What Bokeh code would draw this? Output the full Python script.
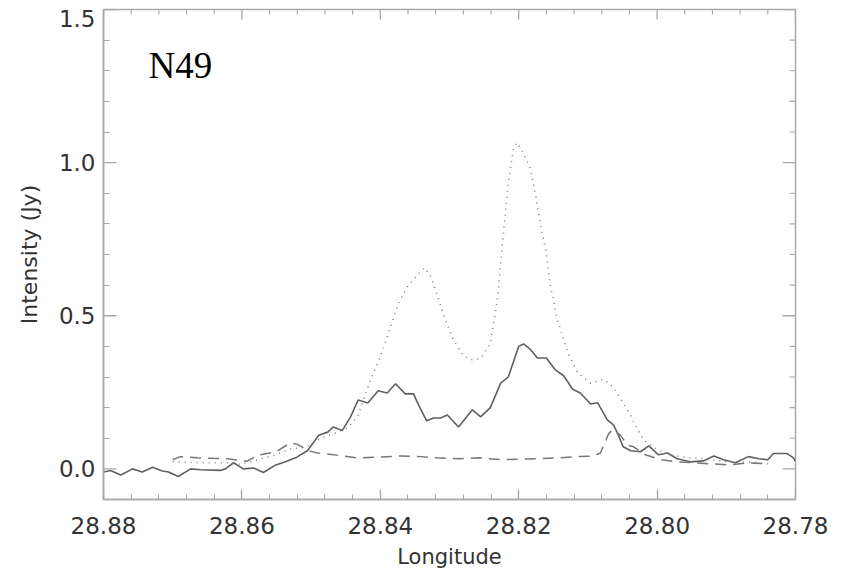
import math
from bokeh.plotting import figure
from bokeh.models import Range1d, FixedTicker, Label
from bokeh.embed import file_html
from bokeh.resources import INLINE

# ---- data ----
lon_solid = [28.8800, 28.8790, 28.8775, 28.8758, 28.8744, 28.8729, 28.8715, 28.8706, 28.8692,
             28.8674, 28.8660, 28.8631, 28.8624, 28.8612, 28.8598, 28.8583, 28.8569, 28.8551,
             28.8537, 28.8520, 28.8505, 28.8489, 28.8476, 28.8468, 28.8455, 28.8443, 28.8432,
             28.8418, 28.8403, 28.8390, 28.8378, 28.8364, 28.8352, 28.8345, 28.8333, 28.8323,
             28.8313, 28.8303, 28.8294, 28.8287, 28.8267, 28.8255, 28.8241, 28.8226, 28.8215,
             28.8200, 28.8193, 28.8183, 28.8173, 28.8160, 28.8147, 28.8135, 28.8122, 28.8111,
             28.8096, 28.8086, 28.8072, 28.8063, 28.8056, 28.8049, 28.8038, 28.8024, 28.8012,
             28.7998, 28.7985, 28.7971, 28.7952, 28.7933, 28.7918, 28.7904, 28.7887, 28.7868,
             28.7853, 28.7840, 28.7832, 28.7812, 28.7803, 28.7800]
int_solid = [-0.010, -0.005, -0.020, 0.000, -0.010, 0.005, -0.007, -0.010, -0.025,
             0.000, -0.003, -0.005, 0.000, 0.020, 0.000, 0.003, -0.012, 0.013,
             0.023, 0.039, 0.060, 0.110, 0.120, 0.137, 0.125, 0.170, 0.225,
             0.215, 0.255, 0.248, 0.278, 0.245, 0.245, 0.210, 0.157, 0.166,
             0.166, 0.176, 0.154, 0.137, 0.193, 0.170, 0.200, 0.280, 0.300,
             0.400, 0.408, 0.390, 0.362, 0.362, 0.323, 0.304, 0.260, 0.248,
             0.212, 0.216, 0.160, 0.144, 0.110, 0.072, 0.059, 0.056, 0.075,
             0.046, 0.052, 0.033, 0.023, 0.026, 0.042, 0.030, 0.020, 0.040,
             0.033, 0.030, 0.050, 0.050, 0.036, 0.025]

lon_dotted = [28.8700, 28.8677, 28.8660, 28.8621, 28.8602, 28.8577, 28.8551, 28.8530, 28.8508,
              28.8486, 28.8462, 28.8447, 28.8433, 28.8414, 28.8400, 28.8385, 28.8374, 28.8361,
              28.8346, 28.8336, 28.8327, 28.8317, 28.8306, 28.8294, 28.8281, 28.8270, 28.8255,
              28.8241, 28.8231, 28.8222, 28.8215, 28.8208, 28.8203, 28.8195, 28.8183, 28.8176,
              28.8168, 28.8161, 28.8154, 28.8144, 28.8129, 28.8115, 28.8096, 28.8077, 28.8063,
              28.8043, 28.8020, 28.7999, 28.7981, 28.7956, 28.7933, 28.7898, 28.7861, 28.7836]
int_dotted = [0.023, 0.022, 0.020, 0.020, 0.015, 0.030, 0.046, 0.065, 0.070,
              0.100, 0.120, 0.134, 0.170, 0.290, 0.366, 0.464, 0.540, 0.595,
              0.634, 0.657, 0.628, 0.562, 0.487, 0.420, 0.373, 0.356, 0.360,
              0.410, 0.550, 0.770, 0.935, 1.040, 1.065, 1.040, 0.980, 0.900,
              0.790, 0.716, 0.595, 0.487, 0.380, 0.314, 0.280, 0.293, 0.265,
              0.193, 0.095, 0.062, 0.046, 0.036, 0.033, 0.023, 0.022, 0.016]

lon_dashed = [28.8700, 28.8689, 28.8664, 28.8621, 28.8592, 28.8577, 28.8551, 28.8530, 28.8520,
              28.8512, 28.8501, 28.8491, 28.8453, 28.8433, 28.8400, 28.8371, 28.8342, 28.8317,
              28.8284, 28.8258, 28.8226, 28.8173, 28.8144, 28.8115, 28.8092, 28.8082, 28.8075,
              28.8070, 28.8064, 28.8053, 28.8043, 28.8034, 28.8017, 28.7995, 28.7971, 28.7947,
              28.7918, 28.7894, 28.7869, 28.7840]
int_dashed = [0.030, 0.040, 0.036, 0.033, 0.025, 0.045, 0.055, 0.085, 0.080,
              0.070, 0.058, 0.052, 0.042, 0.036, 0.039, 0.042, 0.040, 0.036,
              0.033, 0.036, 0.030, 0.033, 0.036, 0.040, 0.042, 0.052, 0.088,
              0.115, 0.128, 0.110, 0.078, 0.072, 0.046, 0.030, 0.023, 0.020,
              0.016, 0.013, 0.020, 0.016]

x_major = [28.88, 28.86, 28.84, 28.82, 28.80, 28.78]
x_labels = ["28.88", "28.86", "28.84", "28.82", "28.80", "28.78"]
x_minor = [28.876, 28.872, 28.868, 28.864, 28.856, 28.852, 28.848, 28.844,
           28.836, 28.832, 28.828, 28.824, 28.816, 28.812, 28.808, 28.804,
           28.796, 28.792, 28.788, 28.784]
y_major = [0.0, 0.5, 1.0, 1.5]
y_labels = ["0.0", "0.5", "1.0", "1.5"]
# where the labels sit (the top one is drawn just below its tick, as in the reference)
y_label_pos = [0.0, 0.5, 1.0, 1.469]
y_minor = [0.1, 0.2, 0.3, 0.4, 0.6, 0.7, 0.8, 0.9, 1.1, 1.2, 1.3, 1.4]

X_START, X_END = 28.88, 28.78
Y_START, Y_END = -0.1, 1.5

FONT = "DejaVu Sans"
FRAME = "#a8a8a8"
TXT = "#333333"

p = figure(frame_width=692, frame_height=490, output_backend="svg", toolbar_location=None,
           x_range=Range1d(X_START, X_END), y_range=Range1d(Y_START, Y_END),
           x_axis_label="Longitude", y_axis_label="Intensity (Jy)",
           min_border_left=103, min_border_right=43, min_border_top=9, min_border_bottom=60)
p.grid.visible = False
p.outline_line_color = FRAME
p.outline_line_width = 1.5
p.background_fill_color = "white"
p.border_fill_color = "white"

xa = p.xaxis[0]
xa.ticker = FixedTicker(ticks=x_major, minor_ticks=x_minor)
xa.major_label_overrides = {v: s for v, s in zip(x_major, x_labels)}
ya = p.yaxis[0]
ya.ticker = FixedTicker(ticks=y_label_pos, minor_ticks=y_minor + [Y_START])
ya.major_label_overrides = {v: s for v, s in zip(y_label_pos, y_labels)}

for ax, mj, mn in ((xa, 10, 5), (ya, 13, 6)):
    ax.axis_line_color = FRAME
    ax.axis_line_width = 1.5
    ax.major_tick_line_color = FRAME
    ax.minor_tick_line_color = FRAME
    ax.major_tick_line_width = 1.3
    ax.minor_tick_line_width = 1.1
    ax.major_tick_in = mj
    ax.major_tick_out = 0
    ax.minor_tick_in = mn
    ax.minor_tick_out = 0
    ax.major_label_text_font = FONT
    ax.major_label_text_font_size = "23px"
    ax.major_label_text_color = TXT
    ax.axis_label_text_font = FONT
    ax.axis_label_text_font_style = "normal"
    ax.axis_label_text_color = TXT

# left major tick marks are drawn as rays at the true tick values
ya.major_tick_line_color = None

xa.major_label_standoff = 17
xa.axis_label_text_font_size = "21px"
xa.axis_label_standoff = 8
ya.major_label_standoff = 8
ya.axis_label_text_font_size = "22px"
ya.axis_label_standoff = 14

# left major ticks, and mirrored tick marks on the top and right edges of the box
p.ray(x=[X_START] * len(y_major), y=y_major, length=13, angle=0,
      length_units="screen", line_color=FRAME, line_width=1.3)
p.ray(x=x_major, y=[Y_END] * len(x_major), length=10, angle=-math.pi / 2,
      length_units="screen", line_color=FRAME, line_width=1.3)
p.ray(x=x_minor, y=[Y_END] * len(x_minor), length=5, angle=-math.pi / 2,
      length_units="screen", line_color=FRAME, line_width=1.1)
p.ray(x=[X_END] * len(y_major), y=y_major, length=13, angle=math.pi,
      length_units="screen", line_color=FRAME, line_width=1.3)
p.ray(x=[X_END] * len(y_minor), y=y_minor, length=6, angle=math.pi,
      length_units="screen", line_color=FRAME, line_width=1.1)

# curves
p.line(lon_solid, int_solid, line_color="#606060", line_width=1.6)
p.line(lon_dotted, int_dotted, line_color="#808080", line_width=1.6, line_dash="1 5")
p.line(lon_dashed, int_dashed, line_color="#777777", line_width=1.5, line_dash="11 7")

p.add_layout(Label(x=28.8735, y=1.316, text="N49", text_font="Liberation Serif",
                   text_font_size="37px", text_color="black", text_baseline="alphabetic"))

open("out.html", "w").write(file_html(p, INLINE))
